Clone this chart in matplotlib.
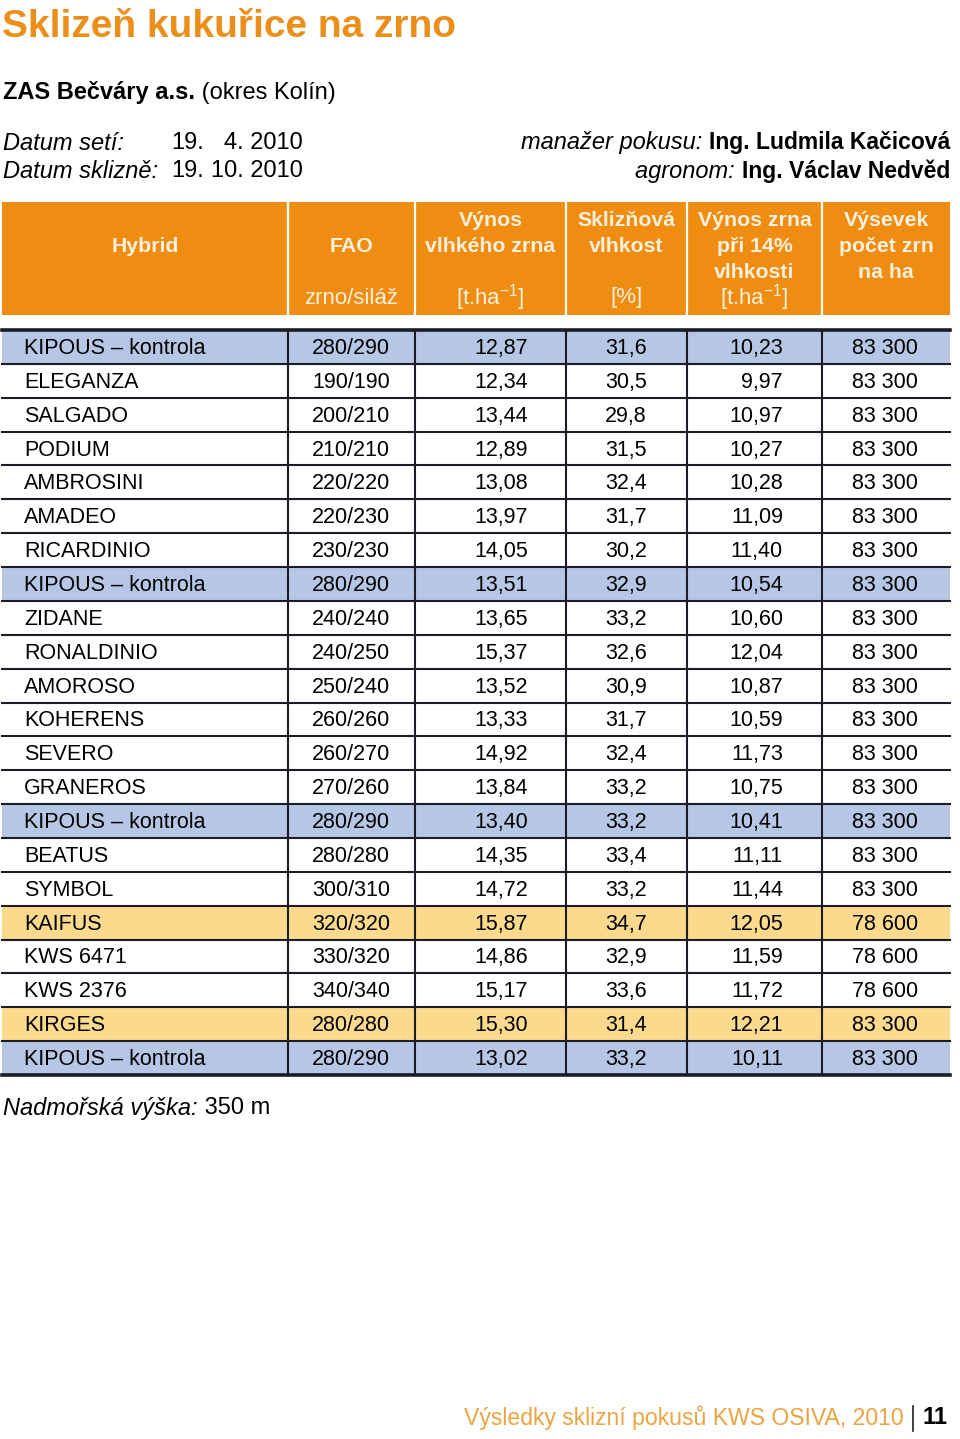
import matplotlib
matplotlib.use("Agg")
from matplotlib import pyplot as plt
from matplotlib.patches import Rectangle

plt.rcParams['font.family'] = ['Liberation Sans', 'DejaVu Sans']
plt.rcParams['mathtext.fontset'] = 'custom'
plt.rcParams['mathtext.rm'] = 'Liberation Sans'
plt.rcParams['mathtext.it'] = 'Liberation Sans:italic'
plt.rcParams['mathtext.bf'] = 'Liberation Sans:bold'

ORANGE = '#ef8d13'
TITLE_ORANGE = '#eb8f1a'
FOOT_ORANGE = '#eba443'
BLUE = '#b6c7e5'
YELLOW = '#fcda8d'
LINE = '#1c1c26'

# --- data ---
hybrids = ['KIPOUS – kontrola', 'ELEGANZA', 'SALGADO', 'PODIUM', 'AMBROSINI',
           'AMADEO', 'RICARDINIO', 'KIPOUS – kontrola', 'ZIDANE', 'RONALDINIO',
           'AMOROSO', 'KOHERENS', 'SEVERO', 'GRANEROS', 'KIPOUS – kontrola',
           'BEATUS', 'SYMBOL', 'KAIFUS', 'KWS 6471', 'KWS 2376', 'KIRGES',
           'KIPOUS – kontrola']
fao = ['280/290', '190/190', '200/210', '210/210', '220/220', '220/230',
       '230/230', '280/290', '240/240', '240/250', '250/240', '260/260',
       '260/270', '270/260', '280/290', '280/280', '300/310', '320/320',
       '330/320', '340/340', '280/280', '280/290']
vynos_vlhke = [12.87, 12.34, 13.44, 12.89, 13.08, 13.97, 14.05, 13.51, 13.65,
               15.37, 13.52, 13.33, 14.92, 13.84, 13.40, 14.35, 14.72, 15.87,
               14.86, 15.17, 15.30, 13.02]
vlhkost = [31.6, 30.5, 29.8, 31.5, 32.4, 31.7, 30.2, 32.9, 33.2, 32.6, 30.9,
           31.7, 32.4, 33.2, 33.2, 33.4, 33.2, 34.7, 32.9, 33.6, 31.4, 33.2]
vynos_14 = [10.23, 9.97, 10.97, 10.27, 10.28, 11.09, 11.40, 10.54, 10.60, 12.04,
            10.87, 10.59, 11.73, 10.75, 10.41, 11.11, 11.44, 12.05, 11.59,
            11.72, 12.21, 10.11]
vysevek = [83300] * 17 + [78600, 78600, 78600, 83300, 83300]
# 'k' = kontrola (blue), 'n' = novinka (yellow), '' = plain
row_kind = ['k', '', '', '', '', '', '', 'k', '', '', '', '', '', '', 'k',
            '', '', 'n', '', '', 'n', 'k']

col_edges = [2, 288, 415, 566, 687, 822, 950]


def cz(v, nd):
    return f'{v:.{nd}f}'.replace('.', ',')


def thousands(v):
    return f'{v:,}'.replace(',', ' ')


fig = plt.figure(figsize=[9.6, 14.39], dpi=100)
ax = fig.add_axes([0, 0, 1, 1])
ax.set_xlim(0, 960)
ax.set_ylim(1439, 0)
ax.set_axis_off()

# --- title block ---
ax.text(2, 27, 'Sklizeň kukuřice na zrno', color=TITLE_ORANGE, fontsize=28,
        fontweight='bold', va='center', ha='left')
t = ax.text(3, 92, 'ZAS Bečváry a.s.', fontsize=17, fontweight='bold',
            va='center', ha='left')
ax.annotate(' (okres Kolín)', xy=(1, 0), xycoords=t, fontsize=17,
            va='bottom', ha='left')

for y, lab, d1, d2 in [(143, 'Datum setí:', '19.', '4. 2010'),
                       (171, 'Datum sklizně:', '19.', '10. 2010')]:
    ax.text(3, y, lab, fontsize=17, style='italic', va='center')
    ax.text(171, y, d1, fontsize=17, va='center')
    ax.text(303, y, d2, fontsize=17, va='center', ha='right')

for y, lab, name in [(143, 'manažer pokusu:', 'Ing. Ludmila Kačicová'),
                     (171, 'agronom:', 'Ing. Václav Nedvěd')]:
    t = ax.text(950, y, name, fontsize=16.5, fontweight='bold', va='center',
                ha='right')
    ax.annotate(lab + ' ', xy=(0, 0), xycoords=t, fontsize=17,
                style='italic', va='bottom', ha='right')

# --- header ---
hy0, hy1 = 202, 315
ax.add_patch(Rectangle((col_edges[0], hy0), col_edges[-1] - col_edges[0],
                       hy1 - hy0, color=ORANGE, lw=0))
for x in col_edges[1:-1]:
    ax.plot([x, x], [hy0, hy1], color='white', lw=1.6)

hdr_bold = ['Hybrid', 'FAO', 'Výnos\nvlhkého zrna', 'Sklizňová\nvlhkost',
            'Výnos zrna\npři 14%\nvlhkosti', 'Výsevek\npočet zrn\nna ha']
hdr_unit = ['', 'zrno/siláž', '[t.ha$^{-1}$]', '[%]', '[t.ha$^{-1}$]', '']
hdr_col = '#fdf0dc'
hfs = 15.3
for i, (b, u) in enumerate(zip(hdr_bold, hdr_unit)):
    cx = (col_edges[i] + col_edges[i + 1]) / 2
    lines = b.split('\n')
    if len(lines) == 1:
        ax.text(cx, 246, b, color=hdr_col, fontsize=hfs, fontweight='bold',
                ha='center', va='center')
    else:
        for j, ln in enumerate(lines):
            ax.text(cx, 221 + j * 25.5, ln, color=hdr_col, fontsize=hfs,
                    fontweight='bold', ha='center', va='center')
    if u:
        ax.text(cx, 298, u, color=hdr_col, fontsize=16, ha='center',
                va='center')

# --- body ---
ty0, ty1 = 330, 1075
n = len(hybrids)
rh = (ty1 - ty0) / n
for i in range(n):
    y0 = ty0 + i * rh
    if row_kind[i] == 'k':
        ax.add_patch(Rectangle((col_edges[0], y0), col_edges[-1] - col_edges[0],
                               rh, color=BLUE, lw=0))
    elif row_kind[i] == 'n':
        ax.add_patch(Rectangle((col_edges[0], y0), col_edges[-1] - col_edges[0],
                               rh, color=YELLOW, lw=0))
    cy = y0 + rh / 2 + 1.5
    fs = 15.5
    ax.text(24, cy, hybrids[i], fontsize=fs, va='center', ha='left')
    ax.text(351, cy, fao[i], fontsize=fs, va='center', ha='center')
    ax.text(528, cy, cz(vynos_vlhke[i], 2), fontsize=fs, va='center', ha='right')
    ax.text(626, cy, cz(vlhkost[i], 1), fontsize=fs, va='center', ha='center')
    ax.text(783, cy, cz(vynos_14[i], 2), fontsize=fs, va='center', ha='right')
    ax.text(885, cy, thousands(vysevek[i]), fontsize=fs, va='center',
            ha='center')

for i in range(1, n):
    y = ty0 + i * rh
    ax.plot([col_edges[0], col_edges[-1]], [y, y], color=LINE, lw=1.5)
ax.plot([col_edges[0], col_edges[-1]], [ty0, ty0], color=LINE, lw=2.6)
ax.plot([col_edges[0], col_edges[-1]], [ty1, ty1], color=LINE, lw=2.6)
for x in col_edges[1:-1]:
    ax.plot([x, x], [ty0, ty1], color=LINE, lw=1.5)

# --- footer ---
t = ax.text(3, 1108, 'Nadmořská výška:', fontsize=17, style='italic',
            va='center', ha='left')
ax.annotate(' 350 m', xy=(1, 0), xycoords=t, fontsize=17, va='bottom',
            ha='left')

t = ax.text(948, 1418, '11', fontsize=17, fontweight='bold', va='center',
            ha='right')
ax.plot([913, 913], [1406, 1431], color=LINE, lw=1.2)
ax.text(904, 1418, 'Výsledky sklizní pokusů KWS OSIVA, 2010', fontsize=16.6,
        color=FOOT_ORANGE, va='center', ha='right')

fig.savefig('out.png', dpi=100)
